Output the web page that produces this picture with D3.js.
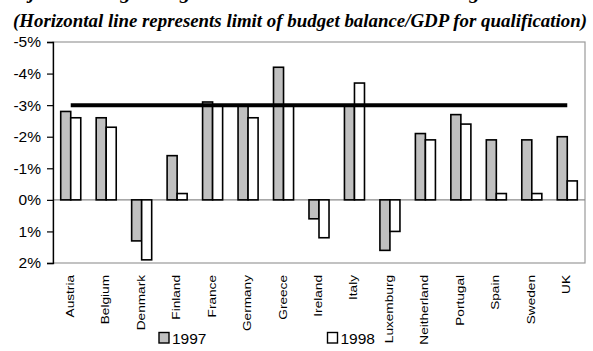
<!DOCTYPE html>
<html>
<head>
<meta charset="utf-8">
<script src="https://cdn.jsdelivr.net/npm/d3@7"></script>
<style>
  html, body { margin: 0; padding: 0; background: #fff; }
  svg { display: block; }
</style>
</head>
<body>
<svg id="chart" width="593" height="351"></svg>
<script>
// Budget balance as % of GDP (negative = deficit)
const countries = ["Austria", "Belgium", "Denmark", "Finland", "France", "Germany", "Greece",
  "Ireland", "Italy", "Luxemburg", "Neitherland", "Portugal", "Spain", "Sweden", "UK"];
const balance1997 = [-2.8, -2.6, 1.3, -1.4, -3.1, -3.0, -4.2, 0.6, -3.0, 1.6, -2.1, -2.7, -1.9, -1.9, -2.0];
const balance1998 = [-2.6, -2.3, 1.9, -0.2, -3.0, -2.6, -3.0, 1.2, -3.7, 1.0, -1.9, -2.4, -0.2, -0.2, -0.6];
const seriesNames = ["1997", "1998"];
const seriesFill = ["#c0c0c0", "#ffffff"];
const yTicks = [-5, -4, -3, -2, -1, 0, 1, 2];
const qualificationLimit = -3;

const svg = d3.select("#chart");
const plot = { left: 53, right: 585, top: 42, bottom: 263 };

const titleText = "Adjusted Budget Targets versus the Maastricht Convergence Limit";
const subtitleText = "(Horizontal line represents limit of budget balance/GDP for qualification)";

// Titles (the main title sits mostly above the top edge)
svg.append("text")
  .attr("x", 5).attr("y", -1)
  .attr("font-family", "Liberation Serif, serif")
  .attr("font-style", "italic").attr("font-weight", "bold")
  .attr("font-size", 19)
  .attr("textLength", 565).attr("lengthAdjust", "spacingAndGlyphs")
  .text(titleText);

svg.append("text")
  .attr("x", 13).attr("y", 26.5)
  .attr("font-family", "Liberation Serif, serif")
  .attr("font-style", "italic").attr("font-weight", "bold")
  .attr("font-size", 19)
  .attr("textLength", 574).attr("lengthAdjust", "spacingAndGlyphs")
  .text(subtitleText);

// Scales
const x0 = d3.scaleBand().domain(countries).range([plot.left, plot.right]).padding(0);
const x1 = d3.scaleBand().domain(seriesNames).range([0, x0.bandwidth()])
  .paddingInner(0).paddingOuter(0.77);
const y = d3.scaleLinear().domain([2, -5]).range([plot.bottom, plot.top]);

// Plot frame
svg.append("rect")
  .attr("x", plot.left).attr("y", plot.top)
  .attr("width", plot.right - plot.left).attr("height", plot.bottom - plot.top)
  .attr("fill", "none").attr("stroke", "#9a9a9a").attr("stroke-width", 1.2);

// Zero line
svg.append("line")
  .attr("x1", plot.left).attr("x2", plot.right)
  .attr("y1", y(0)).attr("y2", y(0))
  .attr("stroke", "#8a8a8a").attr("stroke-width", 1.2);

// Bars
const groups = svg.append("g").selectAll("g")
  .data(countries)
  .join("g")
  .attr("transform", d => `translate(${x0(d)},0)`);

groups.selectAll("rect")
  .data((d, i) => [balance1997[i], balance1998[i]].map((v, k) => ({ v, k })))
  .join("rect")
  .attr("x", d => x1(seriesNames[d.k]))
  .attr("width", x1.bandwidth())
  .attr("y", d => Math.min(y(d.v), y(0)))
  .attr("height", d => Math.abs(y(d.v) - y(0)))
  .attr("fill", d => seriesFill[d.k])
  .attr("stroke", "#000").attr("stroke-width", 1.6);

// Qualification limit line
const firstC = x0(countries[0]) + x0.bandwidth() / 2;
const lastC = x0(countries[countries.length - 1]) + x0.bandwidth() / 2;
svg.append("line")
  .attr("x1", firstC).attr("x2", lastC)
  .attr("y1", y(qualificationLimit)).attr("y2", y(qualificationLimit))
  .attr("stroke", "#000").attr("stroke-width", 4);

// Y axis
const yAxis = d3.axisLeft(y).tickValues(yTicks).tickSize(6).tickPadding(6)
  .tickFormat(d => `${d}%`);
const yg = svg.append("g").attr("transform", `translate(${plot.left},0)`).call(yAxis);
yg.select(".domain").attr("stroke", "#000").attr("stroke-width", 1.3);
yg.selectAll(".tick line").attr("stroke", "#000").attr("stroke-width", 1.2);
yg.selectAll(".tick text")
  .attr("font-family", "Liberation Sans, Arial, sans-serif")
  .attr("font-size", 15.5).attr("fill", "#000");

// Category labels, stretched along their reading direction
svg.append("g").selectAll("text")
  .data(countries)
  .join("text")
  .attr("transform", d => `translate(${x0(d) + x0.bandwidth() / 2 + 3},275) rotate(-90) scale(1.24,1)`)
  .attr("text-anchor", "end")
  .attr("font-family", "Liberation Sans, Arial, sans-serif")
  .attr("font-size", 11)
  .text(d => d);

// Legend
const legendX = [159, 327.5];
const legend = svg.append("g").selectAll("g")
  .data(seriesNames)
  .join("g")
  .attr("transform", (d, i) => `translate(${legendX[i]},332.5)`);
legend.append("rect")
  .attr("width", 10).attr("height", 10.5)
  .attr("fill", (d, i) => seriesFill[i])
  .attr("stroke", "#000").attr("stroke-width", 1.4);
legend.append("text")
  .attr("x", 13).attr("y", 11)
  .attr("font-family", "Liberation Sans, Arial, sans-serif")
  .attr("font-size", 15.5)
  .text(d => d);
</script>
</body>
</html>
